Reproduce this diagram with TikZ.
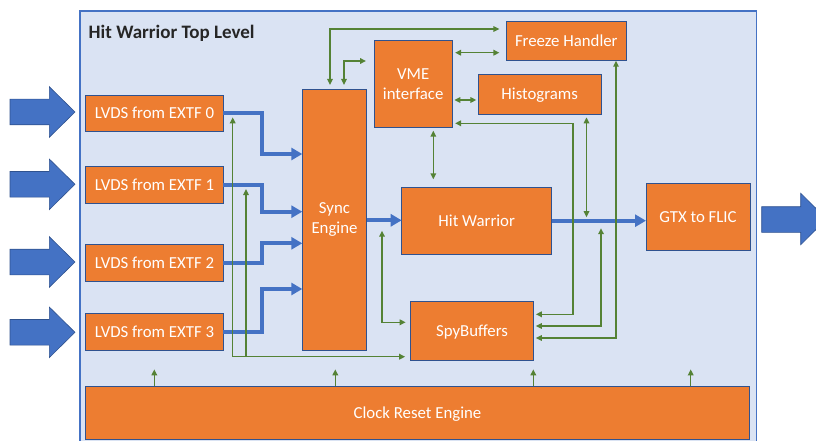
\documentclass[tikz,border=0pt]{standalone}
\usepackage{fontspec}
\setmainfont{Carlito}
\usetikzlibrary{arrows.meta,calc}
\definecolor{orng}{RGB}{237,125,49}
\definecolor{bxline}{RGB}{47,82,143}
\definecolor{panelfill}{RGB}{218,227,243}
\definecolor{panelline}{RGB}{68,114,196}
\definecolor{bigblue}{RGB}{68,114,196}
\definecolor{grn}{RGB}{84,130,53}
\begin{document}
\begin{tikzpicture}[x=1pt,y=-1pt,
  box/.style={draw=bxline,line width=0.8pt,fill=orng,text=white,inner sep=0pt,outer sep=0pt,
    font=\fontsize{16.8}{20.5}\selectfont,align=center},
  onel/.style={text height=11pt,text depth=0pt},
  thickblue/.style={draw=bigblue,line width=4pt,-{Triangle[length=11pt,width=12pt]}},
  g/.style={draw=grn,line width=1.5pt,{Triangle[length=6pt,width=5.5pt]}-{Triangle[length=6pt,width=5.5pt]}},
  gup/.style={draw=grn,line width=1.5pt,-{Triangle[length=6pt,width=5.5pt]}},
  bigarrow/.style={fill=bigblue,draw=bxline,line width=0.6pt}]
\useasboundingbox (0,0) rectangle (816,441);
\clip (0,0) rectangle (816,441);
% panel
\fill[panelfill,draw=panelline,line width=1.2pt] (80,11) rectangle (756.5,460);
\node[anchor=base west,inner sep=0pt,font=\fontsize{19}{22}\selectfont\bfseries,text={rgb,255:red,38;green,38;blue,38}] (title) at (88.5,38.1) {Hit Warrior Top Level};
% input arrows
\foreach \cy in {112,184.3,262,332.3}{
  \draw[bigarrow] (10,\cy-12.8) -- (49.3,\cy-12.8) -- (49.3,\cy-25.3) -- (75,\cy) -- (49.3,\cy+25.3) -- (49.3,\cy+12.8) -- (10,\cy+12.8) -- cycle;
}
% output arrow
\draw[bigarrow] (761.7,206.7) -- (800.7,206.7) -- (800.7,193.3) -- (826.7,219) -- (800.7,244.7) -- (800.7,232.3) -- (761.7,232.3) -- cycle;
% boxes
\node[box,onel,minimum width=137.6pt,minimum height=36.7pt] (l0) at (154.5,113.3) {LVDS from EXTF 0};
\node[box,onel,minimum width=137.6pt,minimum height=36.7pt] (l1) at (154.5,185) {LVDS from EXTF 1};
\node[box,onel,minimum width=137.6pt,minimum height=36.7pt] (l2) at (154.5,262.8) {LVDS from EXTF 2};
\node[box,onel,minimum width=137.6pt,minimum height=36.7pt] (l3) at (154.5,331.7) {LVDS from EXTF 3};
\node[box,minimum width=64.4pt,minimum height=261pt] (sync) at (334.5,219.5) {Sync\\Engine};
\node[box,minimum width=78.3pt,minimum height=86.6pt] (vme) at (413.2,84) {VME\\interface};
\node[box,onel,minimum width=120.7pt,minimum height=38.3pt] (freeze) at (566.3,40.8) {Freeze Handler};
\node[box,onel,minimum width=122.7pt,minimum height=40.3pt] (hist) at (539.7,94.2) {Histograms};
\node[box,onel,minimum width=150pt,minimum height=66.7pt] (hw) at (476.7,220.7) {Hit Warrior};
\node[box,onel,minimum width=104pt,minimum height=67.4pt] (gtx) at (698,217) {GTX to FLIC};
\node[box,onel,minimum width=122.6pt,minimum height=58.3pt] (spy) at (472,330.8) {SpyBuffers};
\node[box,onel,minimum width=663.6pt,minimum height=53pt] (clk) at (417.5,412.5) {Clock Reset Engine};
% thick blue data paths
\draw[thickblue] (l0.east) -| (262.3,154) -- (sync.west |- 0,154);
\draw[thickblue] (l1.east) -| (262.3,211.7) -- (sync.west |- 0,211.7);
\draw[thickblue] (l2.east) -| (262.3,243.3) -- (sync.west |- 0,243.3);
\draw[thickblue] (l3.east) -| (262.3,289) -- (sync.west |- 0,289);
\draw[thickblue] (sync.east |- 0,220.3) -- (hw.west |- 0,220.3);
\draw[thickblue] (hw.east) -- (gtx.west |- hw.east);
% green control connectors
\draw[g,shorten <=4pt,shorten >=6.5pt] (sync.north -| 330,0) |- (freeze.west |- 0,29);
\draw[g,shorten <=4pt,shorten >=8pt] (sync.north -| 344,0) |- (vme.west |- 0,61);
\draw[g,shorten <=2.7pt,shorten >=6.5pt] (vme.east |- 0,52.7) -- (freeze.west |- 0,52.7);
\draw[g,shorten <=2pt,shorten >=2pt] (vme.east |- 0,100) -- (hist.west |- 0,100);
\draw[g,shorten <=3.4pt,shorten >=8pt] (vme.south -| 433.3,0) -- (hw.north -| 433.3,0);
\draw[g,shorten <=2.5pt,shorten >=2.7pt] (spy.east |- 0,314.3) -| (573,123.3) -- (vme.east |- 0,123.3);
\draw[g,shorten <=3pt,shorten >=3.5pt] (hist.south -| 586.5,0) -- (hw.east -| 586.5,0);
\draw[g,shorten <=2.5pt,shorten >=7.5pt] (spy.east |- 0,326) -| (hw.east -| 601,0);
\draw[g,shorten <=2.5pt,shorten >=0.8pt] (spy.east |- 0,338) -| (freeze.south -| 616,0);
\draw[g,shorten <=5pt,shorten >=10pt] (spy.west |- 0,322.3) -| (hw.west -| 382,0);
\draw[g,shorten <=4pt,shorten >=5.5pt] (l0.east -| 232.7,0) |- (spy.west |- 0,356.7);
\coordinate (junc) at (246,356.7);
\draw[gup,shorten >=4pt] (junc) -- (l1.east -| junc);
% clock arrows
\foreach \xx in {154.3,335.3,533.3,690.7}{
  \draw[gup] (clk.north -| \xx,0) -- ++(0,-16.7);
}
\end{tikzpicture}
\end{document}
